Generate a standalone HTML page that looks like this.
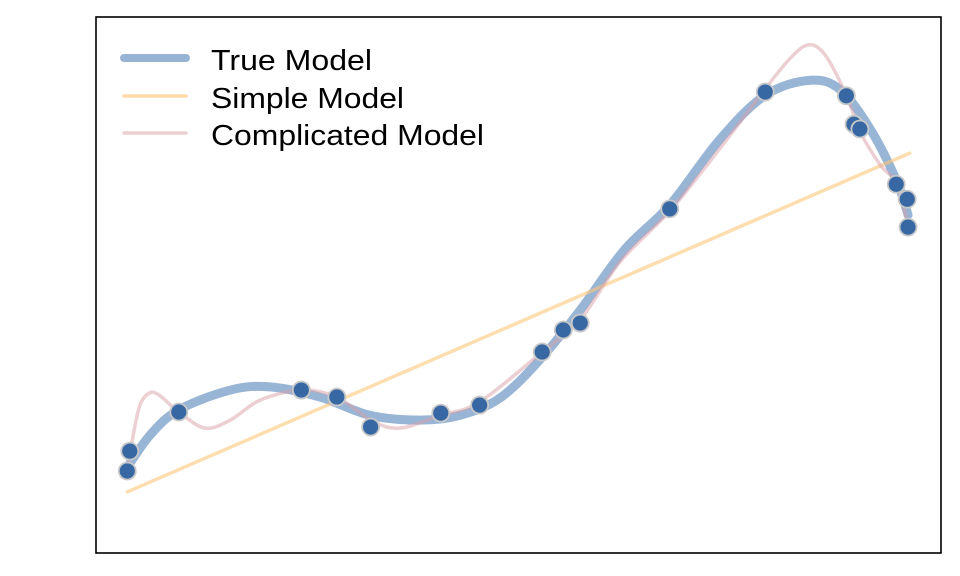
<!DOCTYPE html>
<html><head><meta charset="utf-8"><style>
html,body{margin:0;padding:0;background:#fff;}
svg{display:block;font-family:"Liberation Sans",Arial,sans-serif;}
</style></head><body>
<svg id="chart" width="960" height="576">
<rect x="96" y="17" width="845" height="536" fill="#fff" stroke="#000" stroke-width="1.6"/>
<g id="lines"></g>
<g id="points"></g>
<g>
<line x1="124" y1="58" x2="186" y2="58" stroke="#98b4d4" stroke-width="8" stroke-linecap="round"/>
<text x="211" y="70" font-size="29" textLength="161" lengthAdjust="spacingAndGlyphs" fill="#000">True Model</text>
<line x1="124" y1="96" x2="186" y2="96" stroke="#fdd9a6" stroke-width="3.5" stroke-linecap="round"/>
<text x="211" y="108" font-size="29" textLength="193" lengthAdjust="spacingAndGlyphs" fill="#000">Simple Model</text>
<line x1="124" y1="133" x2="186" y2="133" stroke="#ebcfd2" stroke-width="3.5" stroke-linecap="round"/>
<text x="211" y="145" font-size="29" textLength="273" lengthAdjust="spacingAndGlyphs" fill="#000">Complicated Model</text>
</g>
</svg>
<script>
const pointX=[0.37,0.40,0.98,2.43,2.85,3.25,4.08,4.54,5.28,5.53,5.73,6.79,7.92,8.88,8.97,9.04,9.47,9.60,9.61];
const pointY=[1.53,1.90,2.63,3.04,2.91,2.35,2.61,2.76,3.75,4.16,4.29,6.42,8.60,8.53,8.00,7.91,6.88,6.60,6.08];
const trueX=[0.37,0.64,0.98,1.59,2.06,2.65,3.24,3.83,4.31,4.78,5.25,5.73,6.25,6.79,7.38,7.92,8.45,8.81,9.17,9.47,9.61];
const trueY=[1.60,2.20,2.67,3.04,3.10,2.91,2.57,2.48,2.57,2.89,3.60,4.53,5.65,6.49,7.71,8.54,8.82,8.64,7.89,6.96,6.31];
const simpleX=[0.37,9.63];
const simpleY=[1.14,7.46];
const compX=[0.37,0.43,0.52,0.64,0.76,0.98,1.29,1.59,1.94,2.43,2.85,3.25,3.59,4.08,4.54,5.28,5.73,6.20,6.79,7.38,7.92,8.21,8.43,8.63,8.88,9.04,9.28,9.47,9.61];
const compY=[1.55,2.11,2.76,2.99,2.93,2.63,2.33,2.48,2.85,3.04,2.91,2.48,2.33,2.57,2.82,3.75,4.35,5.43,6.38,7.54,8.66,9.22,9.48,9.29,8.54,7.87,7.24,6.90,6.12];

const sx=v=>96+v*84.5;
const sy=v=>553-v*53.6;
const NS='http://www.w3.org/2000/svg';
function smoothPath(xs,ys){
  const p=xs.map((x,i)=>[sx(x),sy(ys[i])]);
  let d='M'+p[0][0]+','+p[0][1];
  for(let i=0;i<p.length-1;i++){
    const p0=p[Math.max(0,i-1)],p1=p[i],p2=p[i+1],p3=p[Math.min(p.length-1,i+2)];
    const c1=[p1[0]+(p2[0]-p0[0])/6,p1[1]+(p2[1]-p0[1])/6];
    const c2=[p2[0]-(p3[0]-p1[0])/6,p2[1]-(p3[1]-p1[1])/6];
    d+=' C'+c1+' '+c2+' '+p2;
  }
  return d;
}
const lines=document.getElementById('lines');
function addLine(xs,ys,color,w,name,op){
  const e=document.createElementNS(NS,'path');
  e.setAttribute('d',smoothPath(xs,ys));
  e.setAttribute('fill','none');
  e.setAttribute('stroke',color);
  e.setAttribute('stroke-width',w);
  e.setAttribute('stroke-linecap','round');
  e.setAttribute('stroke-opacity',op);
  
  
  lines.appendChild(e);
}
addLine(trueX,trueY,'#5a87bd',9,'true-model-line',0.62);
addLine(simpleX,simpleY,'#fdc778',3.5,'simple-model-line',0.6);
addLine(compX,compY,'#d9a0a8',3.5,'complicated-model-line',0.5);
const pts=document.getElementById('points');
pointX.forEach((x,i)=>{
  const c=document.createElementNS(NS,'circle');
  c.setAttribute('cx',sx(x));
  c.setAttribute('cy',sy(pointY[i]));
  c.setAttribute('r',8.5);
  c.setAttribute('fill','#3768a4');
  c.setAttribute('stroke','#c8c8c8');
  c.setAttribute('stroke-width',1.8);
  
  
  pts.appendChild(c);
});
</script>
</body></html>
